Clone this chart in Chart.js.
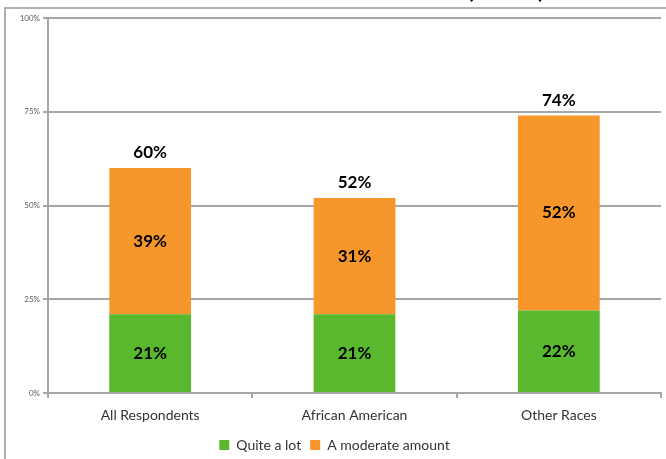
<!DOCTYPE html>
<html>
<head>
<meta charset="utf-8">
<script src="https://cdn.jsdelivr.net/npm/chart.js@4/dist/chart.umd.min.js"></script>
<style>
  html, body { margin: 0; padding: 0; background: #fff; }
  #wrap { width: 666px; height: 459px; position: relative; }
</style>
</head>
<body>
<div id="wrap"><canvas id="grafico"></canvas></div>
<script>
const categorias   = ['All Respondents', 'African American', 'Other Races'];
const quiteALot    = [21, 21, 22];
const moderado     = [39, 31, 52];
const totais       = [60, 52, 74];
const ticksY       = [0, 25, 50, 75, 100];

const FONTE = 'Lato, "Open Sans", "Liberation Sans", sans-serif';

// moldura cinza + restos do título cortado no topo
const molduraPlugin = {
    id: 'moldura',
    beforeDraw(chart) {
        const ctx = chart.ctx;
        ctx.save();
        ctx.strokeStyle = '#b0b0b0';
        ctx.lineWidth = 2;
        ctx.strokeRect(5, 8, 700, 500);
        ctx.fillStyle = '#000';
        ctx.font = 'bold 24px ' + FONTE;
        ctx.textBaseline = 'alphabetic';
        ctx.textAlign = 'left';
        ctx.fillText('(', 467, -2);
        ctx.fillText(')', 538, -2);
        ctx.restore();
    }
};

const rotulosPlugin = {
    id: 'rotulos',
    afterDatasetsDraw(chart) {
        const ctx = chart.ctx;
        ctx.save();
        ctx.fillStyle = '#000';
        ctx.font = 'bold 17px ' + FONTE;
        ctx.textAlign = 'center';
        ctx.textBaseline = 'middle';
        chart.data.datasets.forEach((ds, i) => {
            const meta = chart.getDatasetMeta(i);
            meta.data.forEach((bar, j) => {
                const y = (bar.y + bar.base) / 2;
                ctx.fillText(ds.data[j] + '%', bar.x, y);
            });
        });
        const topo = chart.getDatasetMeta(chart.data.datasets.length - 1);
        topo.data.forEach((bar, j) => {
            ctx.fillText(totais[j] + '%', bar.x, bar.y - 15);
        });
        ctx.restore();
    }
};

new Chart(document.getElementById('grafico'), {
    type: 'bar',
    data: {
        labels: categorias,
        datasets: [
            {
                label: 'Quite a lot',
                data: quiteALot,
                backgroundColor: '#5ab82e',
                borderWidth: 0,
            },
            {
                label: 'A moderate amount',
                data: moderado,
                backgroundColor: '#f7962b',
                borderWidth: 0,
            }
        ]
    },
    options: {
        responsive: true,
        maintainAspectRatio: false,
        animation: false,
        layout: { padding: { left: 8, right: 5, top: 18, bottom: -3 } },
        datasets: { bar: { barPercentage: 0.4, categoryPercentage: 1 } },
        plugins: {
            legend: {
                position: 'bottom',
                labels: {
                    boxWidth: 10,
                    boxHeight: 10,
                    padding: 9,
                    color: '#333',
                    font: { family: FONTE, size: 14 }
                }
            },
            tooltip: { enabled: false }
        },
        scales: {
            x: {
                stacked: true,
                grid: {
                    offset: true,
                    drawOnChartArea: false,
                    color: '#a6a6a6',
                    lineWidth: 2,
                    tickLength: 5,
                },
                border: { color: '#a6a6a6', width: 2 },
                ticks: { color: '#333', padding: 9, font: { family: FONTE, size: 14 } },
                afterFit: s => { s.height = 36; }
            },
            y: {
                stacked: true,
                min: 0,
                max: 100,
                afterBuildTicks: s => { s.ticks = ticksY.map(v => ({ value: v })); },
                ticks: {
                    callback: v => v + '%',
                    color: '#595959',
                    padding: 3,
                    font: { family: FONTE, size: 8 }
                },
                grid: { color: '#a6a6a6', lineWidth: 2, tickLength: 5 },
                border: { color: '#a6a6a6', width: 2 },
                afterFit: s => { s.width = 40; }
            }
        }
    },
    plugins: [molduraPlugin, rotulosPlugin]
});
</script>
</body>
</html>
